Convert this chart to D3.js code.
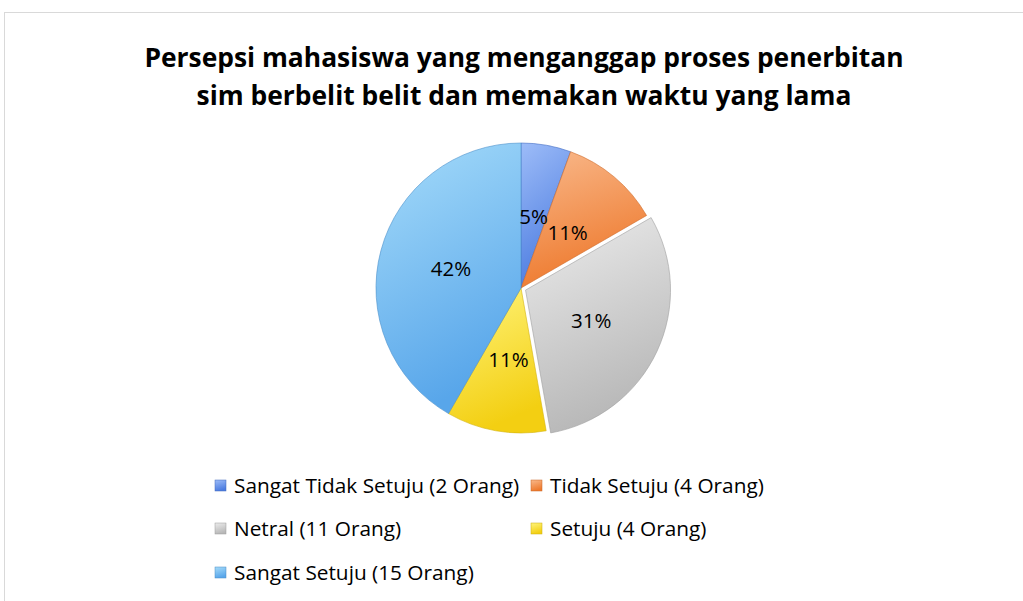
<!DOCTYPE html>
<html>
<head>
<meta charset="utf-8">
<script src="https://cdn.jsdelivr.net/npm/d3@7"></script>
<style>
  body { margin: 0; background: #fff; }
  svg { display: block; }
</style>
</head>
<body>
<div id="chart"></div>
<script>
// chart data
const categories = ["Sangat Tidak Setuju (2 Orang)", "Tidak Setuju (4 Orang)", "Netral (11 Orang)", "Setuju (4 Orang)", "Sangat Setuju (15 Orang)"];
const counts = [2, 4, 11, 4, 15];
const percentLabels = ["5%", "11%", "31%", "11%", "42%"];
const titleLines = ["Persepsi mahasiswa yang menganggap proses penerbitan", "sim berbelit belit dan memakan waktu yang lama"];

(function pie(){
    let width = 1023, height = 601;
    let cx = 521, cy = 288, radius = 145;

    const light = ["#9dbcf8", "#f9b98c", "#ececec", "#fff47c", "#a6dcfa"];
    const dark  = ["#4c7ce0", "#ee7a2e", "#b8b8b8", "#f3cf12", "#58a6ea"];
    const explode = [0, 0, 5, 0, 0];

    const svg = d3.select("#chart")
        .append("svg")
        .attr("width", width)
        .attr("height", height);

    const defs = svg.append("defs");
    categories.forEach((c, i) => {
        const g = defs.append("linearGradient")
            .attr("id", "grad" + i)
            .attr("x1", 0).attr("y1", 0).attr("x2", 0.3).attr("y2", 1);
        g.append("stop").attr("offset", "0%").attr("stop-color", light[i]);
        g.append("stop").attr("offset", "100%").attr("stop-color", dark[i]);
    });

    // chart area border
    svg.append("rect")
        .attr("x", 4.5).attr("y", 12.5)
        .attr("width", 1040).attr("height", 620)
        .attr("fill", "none")
        .attr("stroke", "#d9d9d9");

    // title
    svg.append("g").selectAll("text")
        .data(titleLines)
        .join("text")
        .attr("x", 524)
        .attr("y", (d, i) => 67 + i * 38)
        .attr("text-anchor", "middle")
        .style("font-family", "'Open Sans', sans-serif")
        .style("font-weight", "bold")
        .style("font-size", "26.4px")
        .style("fill", "#000")
        .text(d => d);

    const pieGen = d3.pie().sort(null).value(d => d);
    const arcs = pieGen(counts);
    const arc = d3.arc().innerRadius(0).outerRadius(radius);
    const labelArc = d3.arc().innerRadius(0).outerRadius(radius);

    const offset = (d, i) => {
        const a = (d.startAngle + d.endAngle) / 2;
        return [Math.sin(a) * explode[i], -Math.cos(a) * explode[i]];
    };

    const slices = svg.append("g")
        .attr("transform", `translate(${cx},${cy})`);

    slices.selectAll("path")
        .data(arcs)
        .join("path")
        .attr("transform", (d, i) => `translate(${offset(d, i)})`)
        .attr("d", arc)
        .attr("fill", (d, i) => `url(#grad${i})`)
        .attr("stroke", (d, i) => d3.color(dark[i]).darker(0.4))
        .attr("stroke-width", 0.6);

    slices.selectAll("text")
        .data(arcs)
        .join("text")
        .attr("transform", (d, i) => {
            const c = labelArc.centroid(d), o = offset(d, i);
            return `translate(${c[0] + o[0]},${c[1] + o[1]})`;
        })
        .attr("dy", "0.35em")
        .attr("text-anchor", "middle")
        .style("font-family", "'Open Sans', sans-serif")
        .style("font-size", "20.5px")
        .style("fill", "#000")
        .text((d, i) => percentLabels[i]);

    // legend
    const legendX = [215, 531, 215, 531, 215];
    const legendY = [486, 486, 529, 529, 573];

    const legend = svg.append("g").selectAll("g")
        .data(categories)
        .join("g")
        .attr("transform", (d, i) => `translate(${legendX[i]},${legendY[i]})`);

    legend.append("rect")
        .attr("x", 0).attr("y", -6)
        .attr("width", 11).attr("height", 11)
        .attr("fill", (d, i) => `url(#grad${i})`)
        .attr("stroke", (d, i) => d3.color(dark[i]).darker(0.5))
        .attr("stroke-width", 0.5);

    legend.append("text")
        .attr("x", 19)
        .attr("y", 0)
        .attr("dy", "0.35em")
        .style("font-family", "'Open Sans', sans-serif")
        .style("font-size", "20.8px")
        .style("fill", "#000")
        .text(d => d);
})();
</script>
</body>
</html>
